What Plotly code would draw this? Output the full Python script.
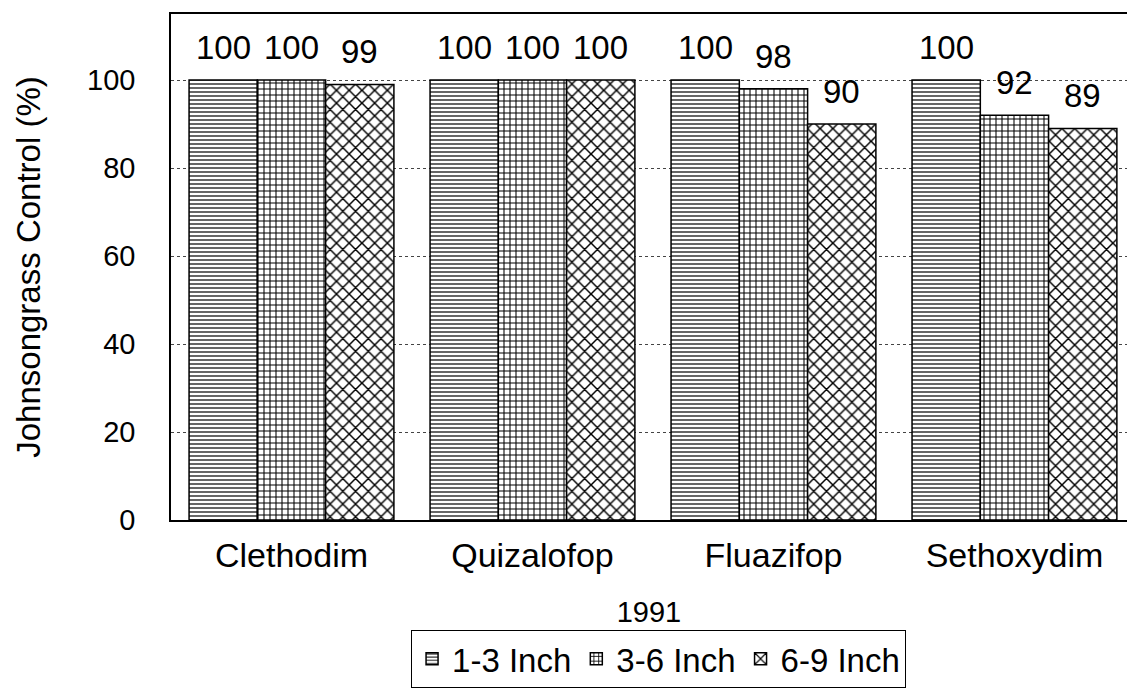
import plotly.graph_objects as go

categories = ["Clethodim", "Quizalofop", "Fluazifop", "Sethoxydim"]
series_names = ["1-3 Inch", "3-6 Inch", "6-9 Inch"]
vals_1_3 = [100, 100, 100, 100]
vals_3_6 = [100, 100, 98, 92]
vals_6_9 = [99, 100, 90, 89]
y_ticks = [0, 20, 40, 60, 80, 100]
x_title = "1991"
y_title = "Johnsongrass Control (%)"

FONT = "Liberation Sans, Arial, sans-serif"
series_vals = [vals_1_3, vals_3_6, vals_6_9]
patterns = [dict(shape="-", size=4, solidity=0.3),
            dict(shape="+", size=6, solidity=0.32),
            dict(shape="x", size=9, solidity=0.3)]

L, R, T, B = 171, 0, 14, 171
W, H = 1127, 691
X_RANGE = [-0.5, 3.467]
BARGAP = 0.15

fig = go.Figure()
for name, vals, pat in zip(series_names, series_vals, patterns):
    fig.add_trace(go.Bar(
        x=categories, y=vals, name=name,
        marker=dict(color="white",
                    line=dict(color="black", width=1.5),
                    pattern=dict(fgcolor="black", bgcolor="white", fillmode="replace", **pat)),
    ))

# value labels above each bar (positioned via data coords + pixel offset within group)
px_per_cat = (W - L - R) / (X_RANGE[1] - X_RANGE[0])
bar_px = px_per_cat * (1 - BARGAP) / len(series_names)
for si, vals in enumerate(series_vals):
    shift = (si - (len(series_names) - 1) / 2) * bar_px
    for cat, v in zip(categories, vals):
        fig.add_annotation(x=cat, y=v, text=str(v), showarrow=False,
                           xshift=shift, yshift=12, yanchor="bottom",
                           font=dict(family=FONT, size=33, color="black"))

fig.update_layout(
    width=W, height=H,
    margin=dict(l=L, r=R, t=T, b=B, autoexpand=False),
    paper_bgcolor="white", plot_bgcolor="white",
    barmode="group", bargap=BARGAP, bargroupgap=0,
    font=dict(family=FONT, color="black"),
    showlegend=True,
    legend=dict(orientation="h", x=0.51, xanchor="center", y=-0.217, yanchor="top",
                font=dict(size=33, family=FONT), bordercolor="black", borderwidth=1,
                bgcolor="white", itemwidth=30, tracegroupgap=0),
)
fig.update_xaxes(
    range=X_RANGE, showline=True, linecolor="black", linewidth=1.5, mirror=True,
    ticks="", tickfont=dict(size=34, family=FONT), ticklabelstandoff=4,
    title=dict(text=x_title, font=dict(size=29, family=FONT), standoff=29),
    showgrid=False, automargin=False,
)
fig.update_yaxes(
    range=[0, 115], tickvals=y_ticks, showline=True, linecolor="black", linewidth=1.5,
    mirror=False, ticks="", tickfont=dict(size=29, family=FONT), ticklabelstandoff=28,
    showgrid=True, gridcolor="#444444", griddash="dot", gridwidth=1,
    zeroline=False, automargin=False,
    title=dict(text=y_title, font=dict(size=33, family=FONT), standoff=37),
)
fig.write_html("out.html")
